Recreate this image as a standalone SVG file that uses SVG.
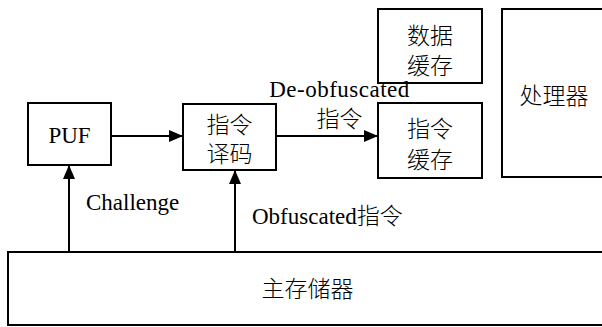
<svg xmlns="http://www.w3.org/2000/svg" width="602" height="327" viewBox="0 0 602 327">
<style>
.box{fill:#fff;stroke:#000;stroke-width:2}
.t{font-family:"Liberation Serif","Noto Sans CJK SC",serif;font-size:23px;font-weight:300;fill:#000}
.c{text-anchor:middle}
.ln{stroke:#000;stroke-width:2;fill:none}
</style>
<defs>
<marker id="ah" viewBox="0 0 14 12" refX="14" refY="6" markerWidth="14" markerHeight="12" markerUnits="userSpaceOnUse" orient="auto">
<path d="M0,0 L14,6 L0,12 Z" fill="#000"/>
</marker>
</defs>
<rect width="602" height="327" fill="#fff"/>
<g id="puf"><rect class="box" x="28" y="103" width="83" height="62"/><text class="t c" x="69.5" y="143">PUF</text></g>
<g id="decoder"><rect class="box" x="183" y="104" width="93" height="66"/><text class="t c" x="229.5" y="133">指令</text><text class="t c" x="229.5" y="162">译码</text></g>
<g id="dcache"><rect class="box" x="378" y="9" width="104" height="74"/><text class="t c" x="430" y="44">数据</text><text class="t c" x="430" y="74">缓存</text></g>
<g id="icache"><rect class="box" x="378" y="103" width="104" height="75"/><text class="t c" x="430" y="137">指令</text><text class="t c" x="430" y="168">缓存</text></g>
<g id="cpu"><rect class="box" x="502" y="9" width="110" height="168"/><text class="t c" x="554" y="104">处理器</text></g>
<g id="mem"><rect class="box" x="8" y="252" width="610" height="73"/><text class="t c" x="307.5" y="297">主存储器</text></g>
<g id="connectors">
<line class="ln" x1="111" y1="136" x2="183" y2="136" marker-end="url(#ah)"/>
<line class="ln" x1="276" y1="136" x2="378" y2="136" marker-end="url(#ah)"/>
<line class="ln" x1="69" y1="252" x2="69" y2="165" marker-end="url(#ah)"/>
<line class="ln" x1="235" y1="252" x2="235" y2="170" marker-end="url(#ah)"/>
<text class="t c" x="339.5" y="97" letter-spacing="0.5">De-obfuscated</text>
<text class="t c" x="339.5" y="127">指令</text>
<text class="t" x="86" y="210">Challenge</text>
<text class="t" x="252" y="224">Obfuscated指令</text>
</g>
</svg>
